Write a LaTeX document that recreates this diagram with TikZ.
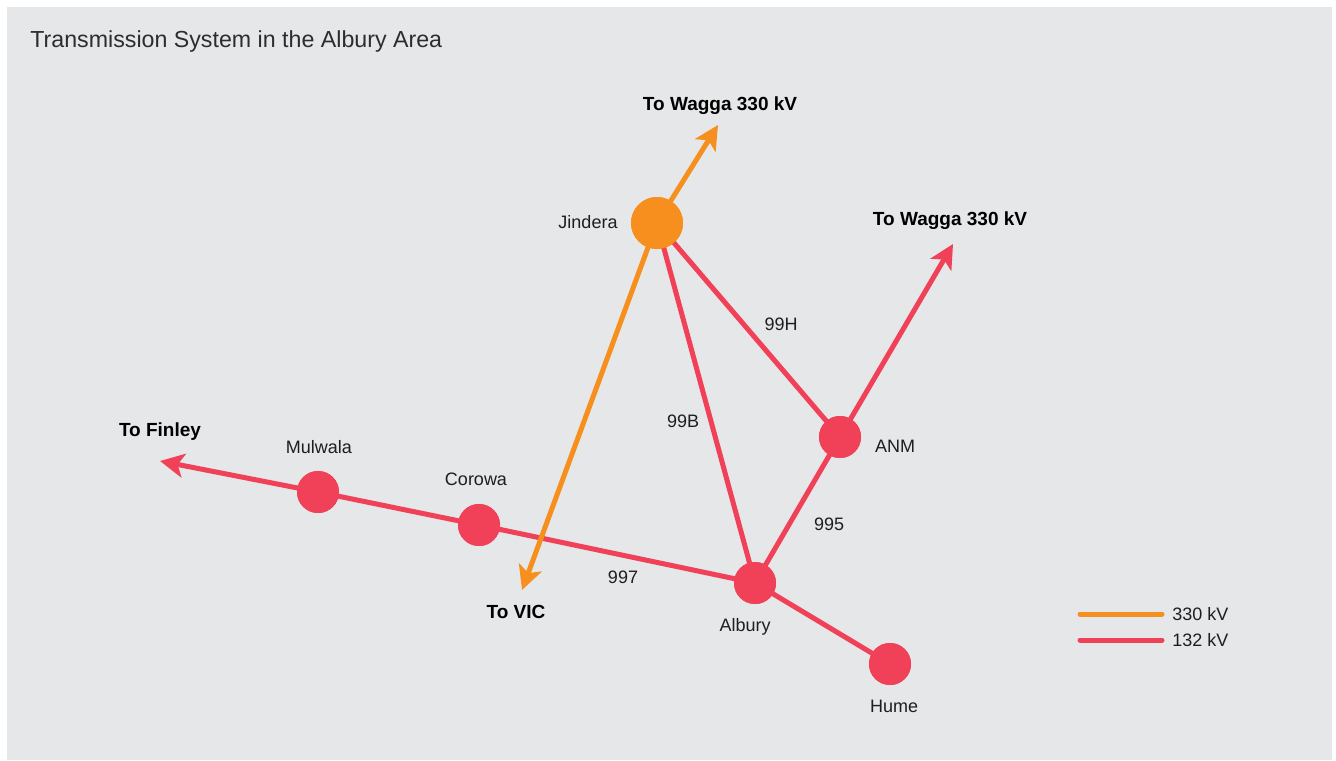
\documentclass[tikz,border=0pt]{standalone}
\usepackage{fontspec}
\setmainfont{Liberation Sans}
\usetikzlibrary{arrows.meta}
\definecolor{panelgray}{RGB}{230,231,233}
\definecolor{kvorange}{RGB}{246,143,30}
\definecolor{kvred}{RGB}{240,65,88}
\definecolor{textdark}{RGB}{30,30,30}
\definecolor{titlegray}{RGB}{45,45,45}

\begin{document}
\begin{tikzpicture}[
    x=0.5pt, y=-0.5pt,
    sub/.style={circle, fill=kvred, minimum size=21pt, inner sep=0pt},
    bigsub/.style={circle, fill=kvorange, minimum size=26pt, inner sep=0pt},
    lbl/.style={font=\fontsize{9}{11}\selectfont, text=textdark, inner sep=0pt},
    dest/.style={font=\bfseries\fontsize{9.5}{11}\selectfont, text=black, inner sep=0pt},
    hv/.style={line width=2.5pt, draw=kvorange},
    mv/.style={line width=2.5pt, draw=kvred},
    feed/.style={-{Stealth[length=12pt, width=12pt, inset=3pt]}}
]
\useasboundingbox (0,0) rectangle (1336,760);

% Panel
\fill[panelgray] (7,7) rectangle (1332,760);
\node[anchor=west, font=\fontsize{11.6}{13}\selectfont, text=titlegray, inner sep=0pt] (title) at (30,42) {Transmission System in the Albury Area};

% Substations
\path node[bigsub] (jin) at (657,223) {}
      node[sub] (anm) at (840,437) {}
      node[sub] (alb) at (755,583) {}
      node[sub] (hum) at (890,664) {}
      node[sub] (cor) at (479,525) {}
      node[sub] (mul) at (318,492) {};

% Line ends
\coordinate (wagJ) at (718,125);
\coordinate (wagA) at (953,244);
\coordinate (vic) at (522,590);
\coordinate (fin) at (160,461);

% 132 kV lines
\draw[mv] (jin.center) -- (alb.center);
\draw[mv] (jin.center) -- (anm.center);
\draw[mv] (anm.center) -- (alb.center);
\draw[mv] (alb.center) -- (hum.center);
\draw[mv] (alb.center) -- (cor.center);
\draw[mv] (cor.center) -- (mul.center);
\draw[mv, feed] (mul.center) -- (fin);
\draw[mv, feed] (anm.center) -- (wagA);

% 330 kV lines
\draw[hv, feed] (jin.center) -- (wagJ);
\draw[hv, feed] (jin.center) -- (vic);

% Circles on top
\foreach \s/\st in {jin/bigsub, anm/sub, alb/sub, hum/sub, cor/sub, mul/sub} {
    \node[\st] at (\s) {};
}

% Substation names
\node[lbl] (jinL) at (588,222) {Jindera};
\node[lbl] (anmL) at (895,446) {ANM};
\node[lbl] (albL) at (745,627) {Albury};
\node[lbl] (humL) at (894,706) {Hume};
\node[lbl] (corL) at (476,479) {Corowa};
\node[lbl] (mulL) at (319,447) {Mulwala};

% Line numbers
\node[lbl] (l99H) at (781,324) {99H};
\node[lbl] (l99B) at (683,421) {99B};
\node[lbl] (l995) at (829,524) {995};
\node[lbl] (l997) at (623,577) {997};

% Destinations
\node[dest] (wagJL) at (720,106) {To Wagga 330 kV};
\node[dest] (wagAL) at (950,221) {To Wagga 330 kV};
\node[dest] (vicL) at (516,612) {To VIC};
\node[dest] (finL) at (160,432) {To Finley};

% Legend
\coordinate (k1a) at (1080,614);
\coordinate (k1b) at (1162,614);
\coordinate (k2a) at (1080,640);
\coordinate (k2b) at (1162,640);
\draw[hv, line cap=round] (k1a) -- (k1b);
\draw[mv, line cap=round] (k2a) -- (k2b);
\node[lbl, anchor=west] (k1L) at (1172,614) {330 kV};
\node[lbl, anchor=west] (k2L) at (1172,640) {132 kV};

\end{tikzpicture}
\end{document}
